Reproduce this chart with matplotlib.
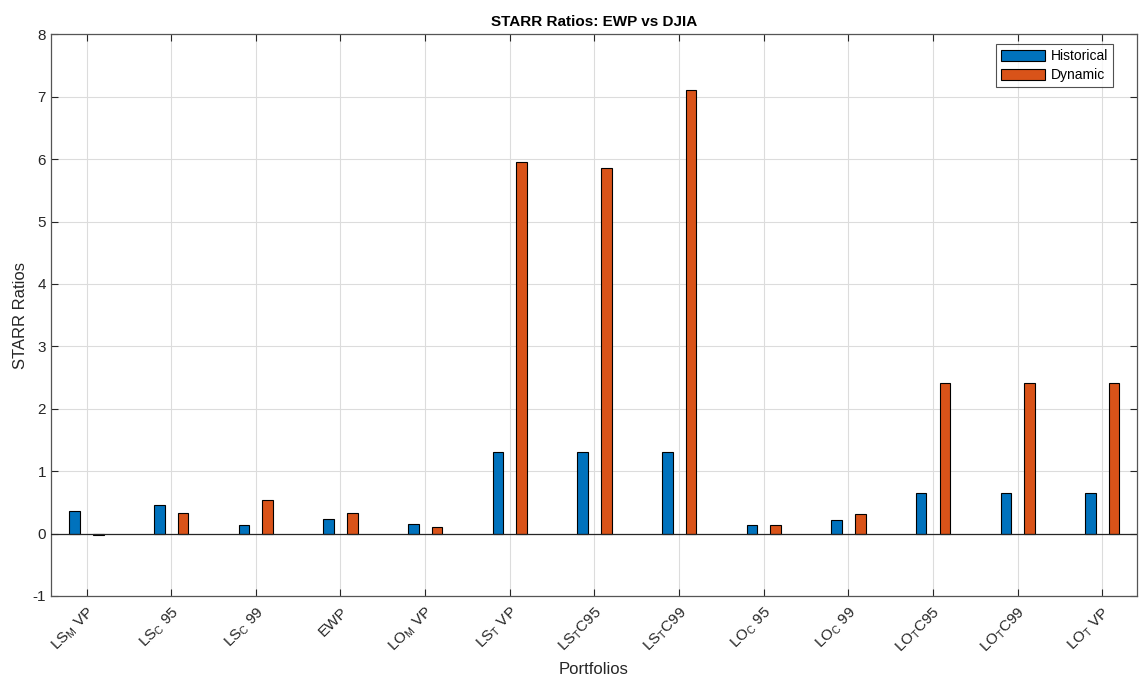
import matplotlib
matplotlib.use("Agg")
import matplotlib.pyplot as plt
import numpy as np

plt.rcParams['font.family'] = ['Liberation Sans', 'DejaVu Sans']
plt.rcParams['mathtext.fontset'] = 'custom'
plt.rcParams['mathtext.rm'] = 'Liberation Sans'
plt.rcParams['mathtext.it'] = 'Liberation Sans'
plt.rcParams['mathtext.default'] = 'regular'
plt.rcParams['axes.unicode_minus'] = False

categories = [r'LS$_{M}$ VP', r'LS$_{C}$ 95', r'LS$_{C}$ 99', 'EWP', r'LO$_{M}$ VP',
              r'LS$_{T}$ VP', r'LS$_{T}$C95', r'LS$_{T}$C99', r'LO$_{C}$ 95', r'LO$_{C}$ 99',
              r'LO$_{T}$C95', r'LO$_{T}$C99', r'LO$_{T}$ VP']
historical = [0.36, 0.45, 0.13, 0.24, 0.16, 1.31, 1.31, 1.31, 0.13, 0.21, 0.645, 0.645, 0.645]
dynamic = [-0.03, 0.33, 0.53, 0.33, 0.11, 5.95, 5.86, 7.11, 0.145, 0.32, 2.42, 2.42, 2.42]

fig = plt.figure(figsize=(11.43, 6.87), dpi=100)
ax = fig.add_axes([0.0446, 0.1325, 0.9502, 0.8175])

x = np.arange(1, len(categories) + 1)
w = 0.125
off = 0.14
ax.bar(x - off, historical, w, color='#0072BD', edgecolor='black', linewidth=0.8,
       label='Historical', zorder=3)
ax.bar(x + off, dynamic, w, color='#D95319', edgecolor='black', linewidth=0.8,
       label='Dynamic', zorder=3)
ax.axhline(0, color='#262626', linewidth=0.9, zorder=4)

ax.set_xlim(0.58, 13.41)
ax.set_ylim(-1, 8)
ax.set_yticks(np.arange(-1, 9, 1))
ax.set_xticks(x)
ax.set_xticklabels(categories, rotation=45, ha='right', rotation_mode='anchor', fontsize=11)
ax.tick_params(axis='both', direction='in', length=5, width=0.8, color='#262626',
               labelcolor='#262626', labelsize=11, top=True, right=True)
ax.tick_params(axis='x', pad=6)
ax.grid(True, color='#dcdcdc', linewidth=0.8, zorder=0)
ax.set_axisbelow(True)
for s in ax.spines.values():
    s.set_color('#555555')
    s.set_linewidth(0.9)

ax.set_title('STARR Ratios: EWP vs DJIA', fontsize=11, fontweight='bold', color='#000000', pad=6)
ax.set_xlabel('Portfolios', fontsize=12, color='#262626', labelpad=4)
ax.set_ylabel('STARR Ratios', fontsize=12, color='#262626', labelpad=3)

leg = ax.legend(loc='upper right', bbox_to_anchor=(1 - 24 / 1086, 1 - 10 / 561),
                fontsize=10, frameon=True, fancybox=False,
                edgecolor='#262626', handlelength=3.2, handleheight=0.9,
                borderaxespad=0.0, labelspacing=0.35, handletextpad=0.4, borderpad=0.35)
leg.get_frame().set_linewidth(0.8)

fig.savefig('out.png', dpi=100)
